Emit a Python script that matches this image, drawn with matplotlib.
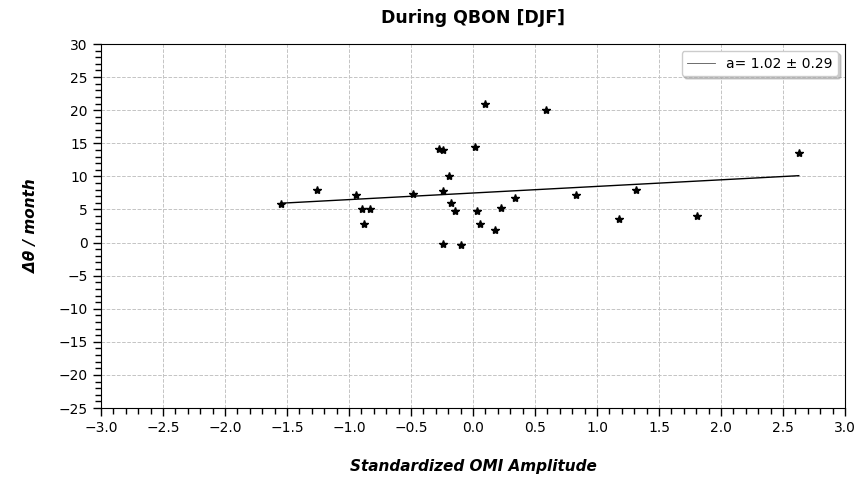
import numpy as np
import matplotlib
matplotlib.use("Agg")
import matplotlib.pyplot as plt
from matplotlib.ticker import MultipleLocator

# OMI amplitude (standardized) and temperature change per month
omi_amp = [-1.552, -1.255, -0.944, -0.892, -0.833, -0.879, -0.484, -0.277,
           -0.244, -0.244, -0.190, -0.174, -0.148, -0.244, -0.097, 0.014,
           0.032, 0.054, 0.100, 0.175, 0.229, 0.336, 0.592, 0.828,
           1.175, 1.318, 1.810, 2.627]
dtheta = [5.79, 8.0, 7.2, 5.0, 5.0, 2.79, 7.4, 14.19,
          14.0, 7.8, 10.0, 6.0, 4.74, -0.2, -0.4, 14.4,
          4.8, 2.79, 21.0, 1.95, 5.19, 6.8, 20.04, 7.2,
          3.54, 7.95, 3.94, 13.59]

slope_txt = "a= 1.02 ± 0.29"

x = np.array(omi_amp)
y = np.array(dtheta)
a, b = np.polyfit(x, y, 1)
xf = np.array([x.min(), x.max()])

fig = plt.figure(figsize=(8.62, 4.79), dpi=100)
ax = fig.add_axes([0.1172, 0.1482, 0.9803 - 0.1172, 0.9081 - 0.1482])

ax.plot(x, y, '*', color='k', ms=6, zorder=3)
ax.plot(xf, a * xf + b, color='k', lw=1, label=slope_txt)

ax.set_xlim(-3, 3)
ax.set_ylim(-25, 30)
ax.xaxis.set_major_locator(MultipleLocator(0.5))
ax.xaxis.set_minor_locator(MultipleLocator(0.1))
ax.yaxis.set_major_locator(MultipleLocator(5))
ax.yaxis.set_minor_locator(MultipleLocator(1))
ax.tick_params(which='major', length=6, width=1, labelsize=10)
ax.tick_params(which='minor', length=4, width=1)
ax.grid(True, which='major', ls='--', color='#c4c4c4', lw=0.7)

ax.set_title("During QBON [DJF]", fontsize=12.5, fontweight='bold', pad=15)
ax.set_xlabel("Standardized OMI Amplitude", fontsize=11,
              fontweight='bold', style='italic', labelpad=17)
ax.set_ylabel("Δθ / month", fontsize=11,
              fontweight='bold', style='italic', labelpad=14)

leg = ax.legend(loc='upper right', shadow={'color': '#999999'}, fontsize=10)
leg.get_lines()[0].set_linewidth(0.6)
leg.get_lines()[0].set_color('#555555')

fig.savefig("out.png", dpi=100)
